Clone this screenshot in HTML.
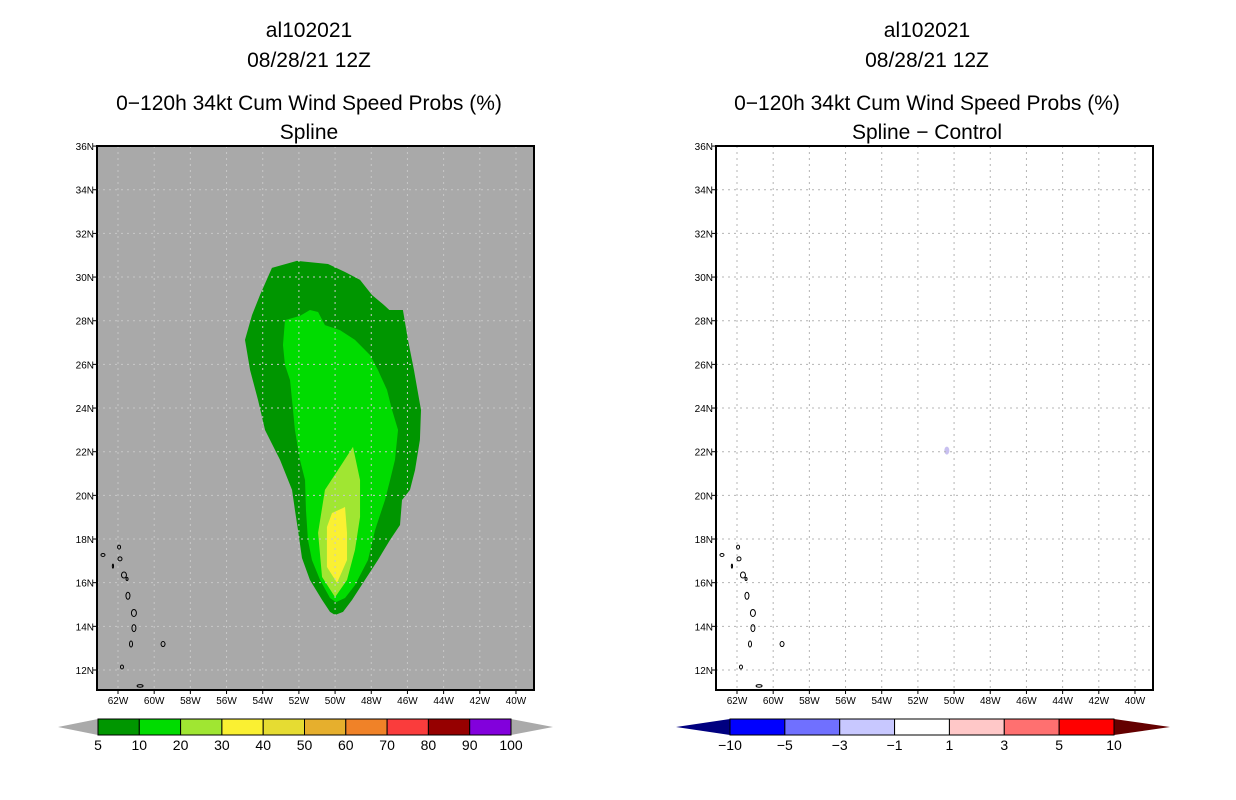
<!DOCTYPE html>
<html><head><meta charset="utf-8"><style>
html,body{margin:0;padding:0;background:#fff;}
svg{display:block;font-family:"Liberation Sans",sans-serif;}
</style></head><body>
<svg id="s" width="1236" height="800" viewBox="0 0 1236 800"></svg>
<script>
// ---- data ----
const lonTicks=[62,60,58,56,54,52,50,48,46,44,42,40];
const latTicks=[12,14,16,18,20,22,24,26,28,30,32,34,36];
const probLevels=["5","10","20","30","40","50","60","70","80","90","100"];
const probColors=["#009600","#00dc00","#a0e632","#faf032","#e6dc32","#e6af2d","#f08228","#fa3c3c","#960000","#8200dc"];
const diffLevels=["\u221210","\u22125","\u22123","\u22121","1","3","5","10"];
const diffColors=["#0000ff","#7070ff","#c8c8ff","#ffffff","#ffc8c8","#ff7070","#ff0000"];
// contours: [lonW, latN]
const c5Lon=[53.49,52.11,50.39,49.45,48.62,47.96,47.30,47.0,46.25,45.97,45.64,45.25,45.31,45.58,45.86,46.30,46.41,46.96,47.63,48.35,49.06,49.56,50.00,50.28,50.72,51.39,51.83,52.05,52.22,52.38,53.04,53.87,54.26,54.70,54.98,54.59,54.15];
const c5Lat=[30.42,30.74,30.60,30.23,29.87,29.18,28.72,28.49,28.49,27.12,25.74,23.91,22.54,21.16,20.25,19.79,18.64,17.96,17.04,16.12,15.21,14.66,14.52,14.66,15.21,16.12,17.13,18.41,19.33,20.25,21.62,22.99,24.37,25.74,27.12,28.26,29.18];
const c10Lon=[52.77,51.94,51.39,50.94,50.56,49.73,48.90,48.07,47.63,47.13,46.85,46.52,46.69,46.96,47.24,47.79,48.18,48.90,49.45,49.95,50.28,50.83,51.28,51.50,51.61,51.66,51.94,52.22,52.38,52.49,52.77,52.88];
const c10Lat=[28.03,28.22,28.49,28.40,27.80,27.57,27.12,26.43,25.74,24.83,23.91,23.00,21.62,20.70,19.79,18.41,17.04,15.89,15.30,15.11,15.30,16.12,17.04,17.96,19.33,20.70,21.62,23.00,24.37,25.28,25.97,26.89];
const c20Lon=[49.01,48.62,48.62,48.90,49.34,50.00,50.72,50.94,50.56,49.73];
const c20Lat=[22.22,20.70,19.01,17.50,16.12,15.34,16.26,18.28,20.25,21.30];
const c30Lon=[49.45,49.34,49.34,49.89,50.45,50.45,50.17,49.56];
const c30Lat=[19.47,18.28,17.04,15.99,16.72,18.55,19.19,19.42];
const islLon=[62.83,61.94,61.89,62.28,61.67,61.50,61.45,61.12,61.12,61.28,59.51,61.78,60.78];
const islLat=[17.27,17.63,17.09,16.76,16.35,16.17,15.40,14.61,13.92,13.19,13.19,12.14,11.27];
const islRx=[2,1.5,2,0.6,2.5,1,2,2.5,2,1.5,2,1.5,3];
const islRy=[1.5,2,2,2,3,1.5,3.5,3.5,3.5,3,2.5,2,1.3];
const diffDotLon=[50.4];
const diffDotLat=[22.05];

const NS="http://www.w3.org/2000/svg";
const svg=document.getElementById('s');
function el(tag,attrs,parent){const e=document.createElementNS(NS,tag);for(const k in attrs)e.setAttribute(k,attrs[k]);(parent||svg).appendChild(e);return e;}
function txt(x,y,s,size,anchor,parent){const t=el('text',{x:x,y:y,'font-size':size,'text-anchor':anchor||'middle',fill:'#000'},parent);t.textContent=s;return t;}

function panel(ox,cx,titles,isDiff){
  const g=el('g',{});
  
  
  const X=lw=>ox+118+(62-lw)*18.09;
  const Y=la=>670-(la-12)*21.83;
  const L=ox+97,R=ox+534,T=146,B=690;
  titles.forEach((t,i)=>{const e=txt(cx,[37,67,110,139][i],t,21,'middle',g);
    
    });
  const bg=el('rect',{x:L,y:T,width:R-L,height:B-T,fill:isDiff?'#fff':'#a9a9a9'},g);
  
  
  if(!isDiff){
    [[c5Lon,c5Lat,0],[c10Lon,c10Lat,1],[c20Lon,c20Lat,2],[c30Lon,c30Lat,3]].forEach(([lo,la,ci])=>{
      const p=el('polygon',{points:lo.map((v,i)=>X(v)+','+Y(la[i])).join(' '),fill:probColors[ci]},g);
      
      
    });
  } else {
    diffDotLon.forEach((v,i)=>{const d=el('ellipse',{cx:X(v),cy:Y(diffDotLat[i]),rx:2.5,ry:4,fill:'#c8c0f0'},g);
      
      });
  }
  const gc=isDiff?'#b4b4b4':'#c8c8c8';
  lonTicks.forEach(v=>{const l=el('line',{x1:X(v),x2:X(v),y1:T,y2:B,stroke:gc,'stroke-width':1,'stroke-dasharray':'2,4'},g);
    });
  latTicks.forEach(v=>{const l=el('line',{x1:L,x2:R,y1:Y(v),y2:Y(v),stroke:gc,'stroke-width':1,'stroke-dasharray':'2,4'},g);
    });
  islLon.forEach((v,i)=>{const e=el('ellipse',{cx:X(v),cy:Y(islLat[i]),rx:islRx[i],ry:islRy[i],fill:'none',stroke:'#000','stroke-width':1},g);
    });
  const f=el('rect',{x:L,y:T,width:R-L,height:B-T,fill:'none',stroke:'#000','stroke-width':2},g);
  
  lonTicks.forEach(v=>{el('line',{x1:X(v),x2:X(v),y1:B,y2:B+4,stroke:'#000'},g);
    const t=txt(X(v),B+14,v+'W',10,'middle',g);
    });
  latTicks.forEach(v=>{el('line',{x1:L-4,x2:L,y1:Y(v),y2:Y(v),stroke:'#000'},g);
    const t=txt(L-3,Y(v)+4,v+'N',10,'end',g);
    });
}
panel(0,309,["al102021","08/28/21 12Z","0\u2212120h 34kt Cum Wind Speed Probs (%)","Spline"],false);
panel(619,927,["al102021","08/28/21 12Z","0\u2212120h 34kt Cum Wind Speed Probs (%)","Spline \u2212 Control"],true);

function colorbar(x0,x1,tl,tr,cols,labs,leftCol,rightCol,name){
  const g=el('g',{});
  
  
  const y0=719,y1=735,w=(x1-x0)/cols.length;
  el('polygon',{points:`${tl},727 ${x0},${y0} ${x0},${y1}`,fill:leftCol},g);
  el('polygon',{points:`${tr},727 ${x1},${y0} ${x1},${y1}`,fill:rightCol},g);
  cols.forEach((c,i)=>{const r=el('rect',{x:x0+i*w,y:y0,width:w,height:y1-y0,fill:c,stroke:'#000','stroke-width':1},g);
    });
  labs.forEach((s,i)=>{const t=txt(x0+i*w,750,s,14,'middle',g);
    });
}
colorbar(98,511,58,553,probColors,probLevels,'#aaaaaa','#aaaaaa','probability-colorbar');
colorbar(730,1114,676,1170,diffColors,diffLevels,'#000080','#640000','difference-colorbar');
</script>
</body></html>
